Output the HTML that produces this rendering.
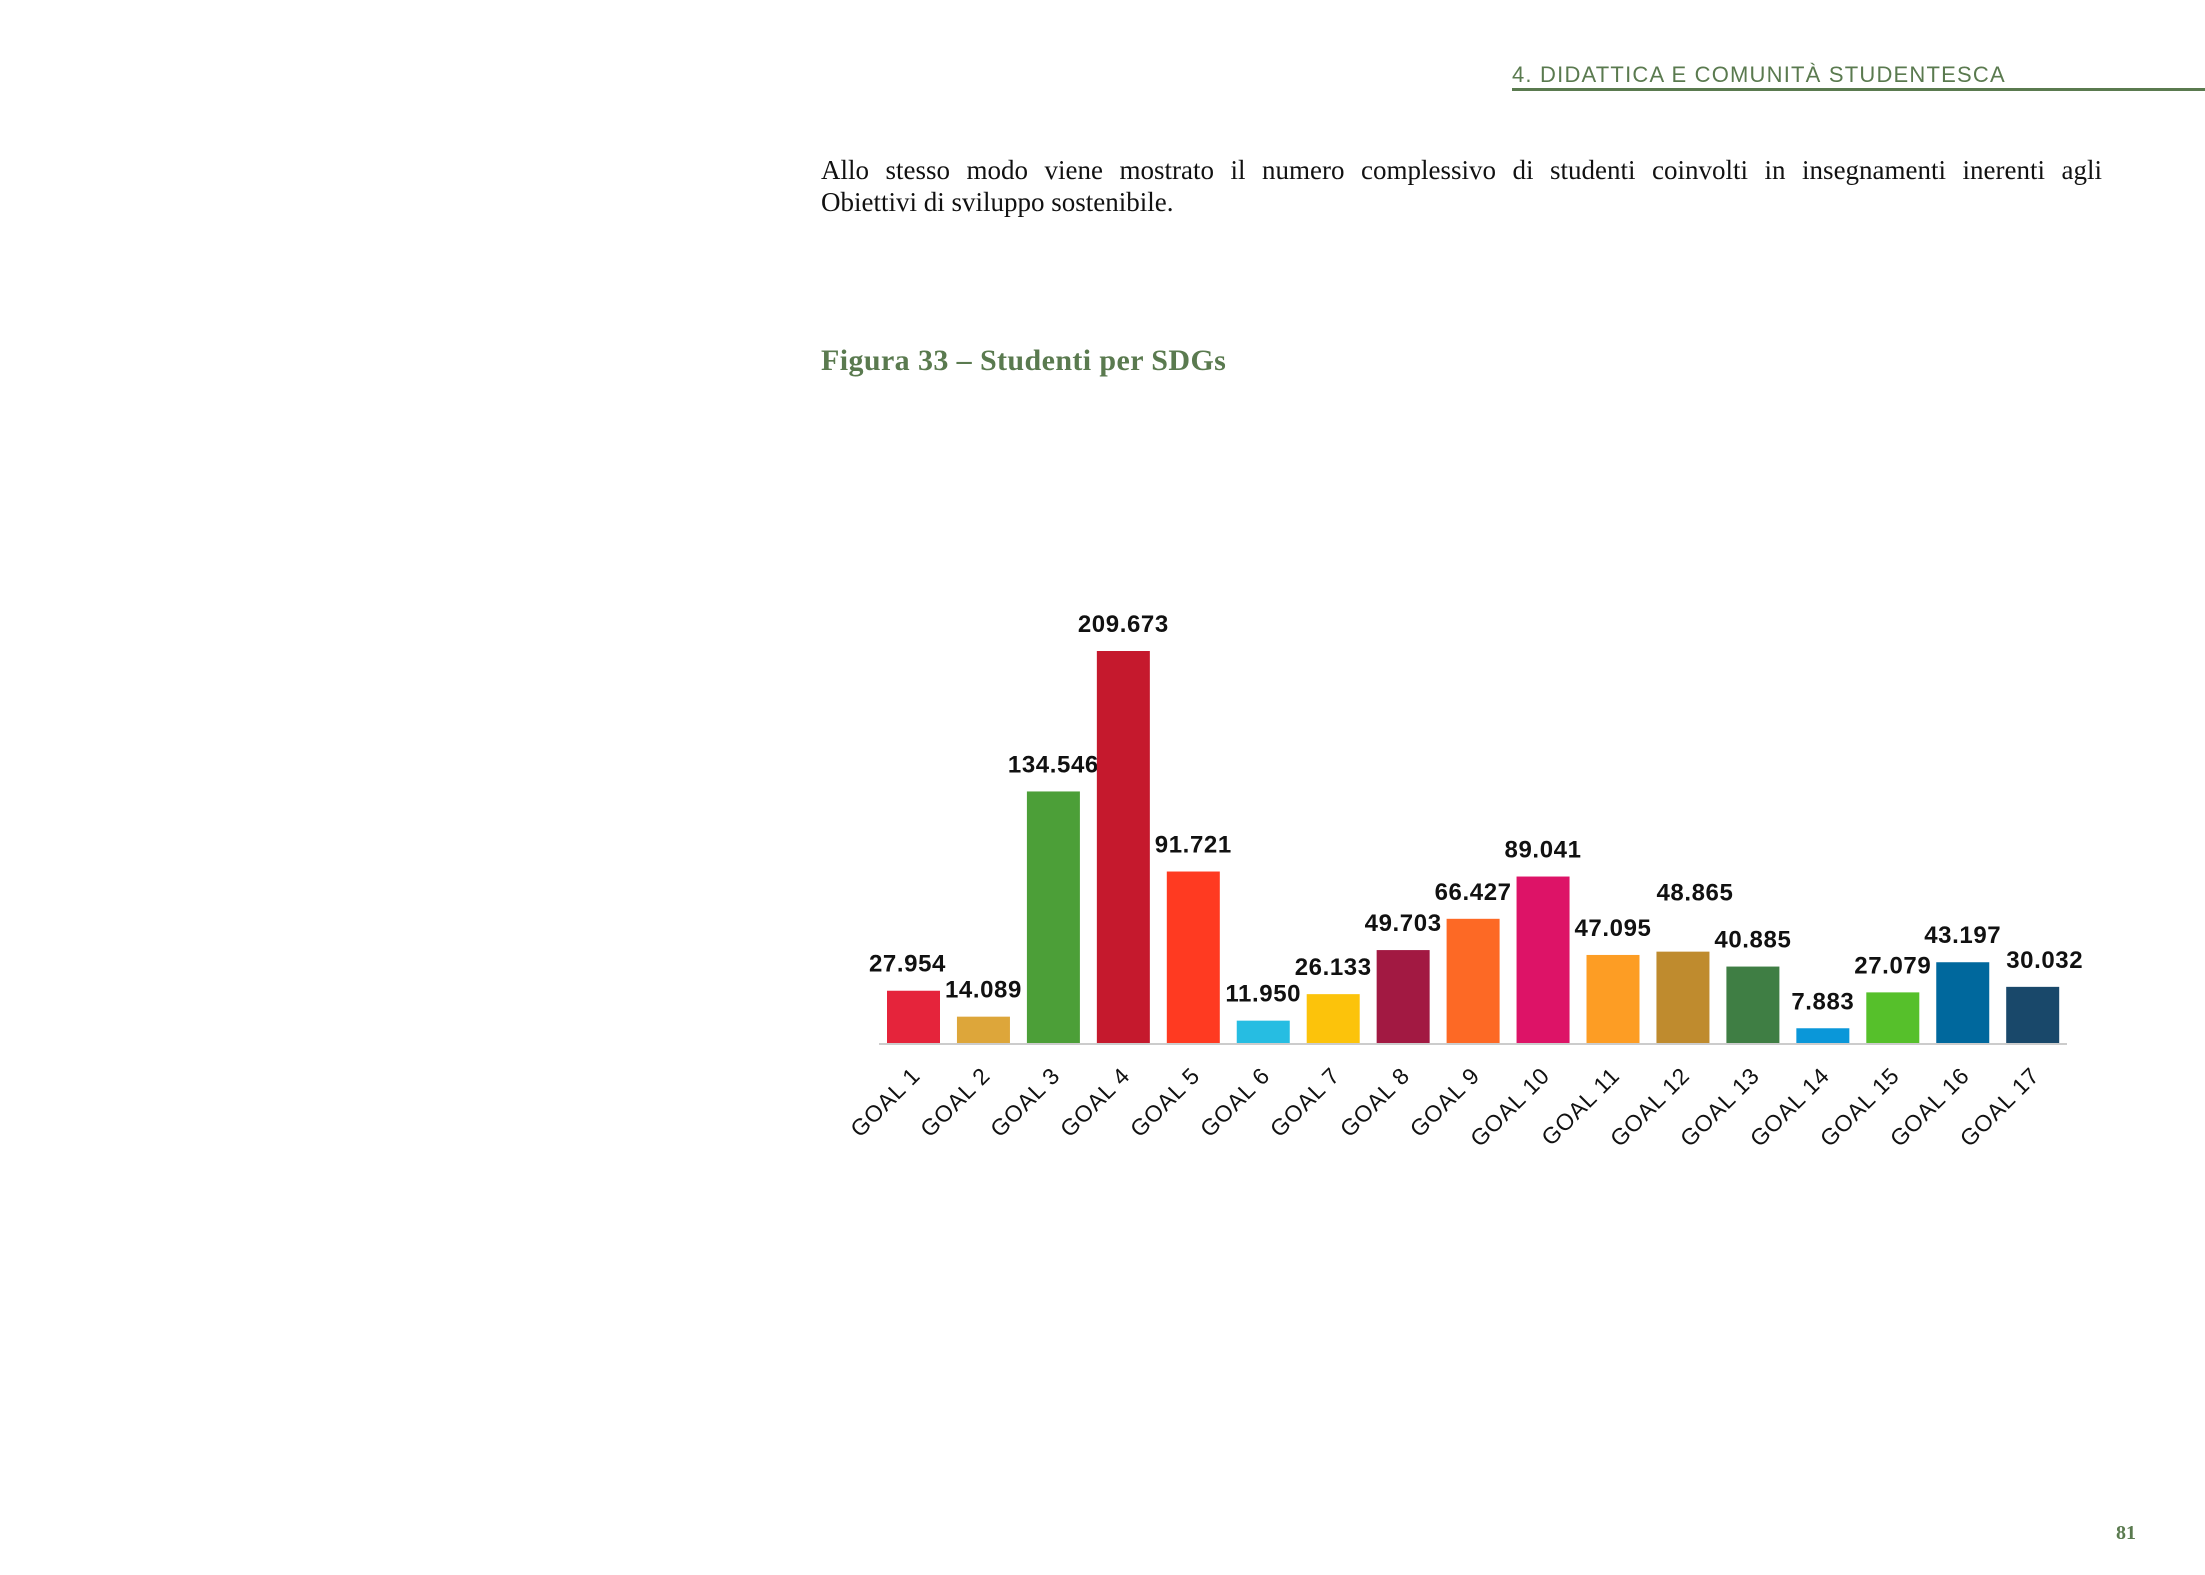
<!DOCTYPE html>
<html><head><meta charset="utf-8"><style>
body{margin:0;width:2205px;height:1575px;background:#fff;position:relative;overflow:hidden}
.hdr{position:absolute;left:1512px;top:62px;font:22px "Liberation Sans",sans-serif;color:#5a7a4f;letter-spacing:1.2px}
.hline{position:absolute;left:1512px;top:88px;width:693px;height:3px;background:#5a7a4f}
.para{position:absolute;left:821px;top:154px;width:1281px;font:27px/32px "Liberation Serif",serif;color:#111}
.l1{text-align:justify;text-align-last:justify;white-space:nowrap;overflow:visible}
.title{position:absolute;left:821px;top:344px;font:bold 30px "Liberation Serif",serif;color:#5a7a4f;letter-spacing:0.4px}
.pnum{position:absolute;left:2116px;top:1522px;font:bold 20px "Liberation Serif",serif;color:#5a7a4f}
svg{position:absolute;left:0;top:0}
</style></head><body>
<div class="hdr">4. DIDATTICA E COMUNITÀ STUDENTESCA</div>
<div class="hline"></div>
<div class="para"><div class="l1" style="white-space:normal">Allo stesso modo viene mostrato il numero complessivo di studenti coinvolti in insegnamenti inerenti agli</div><div>Obiettivi di sviluppo sostenibile.</div></div>
<div class="title">Figura 33 – Studenti per SDGs</div>
<div class="pnum">81</div>
<svg id="chart" width="2205" height="1575"></svg>
<script>
const categories=["GOAL 1","GOAL 2","GOAL 3","GOAL 4","GOAL 5","GOAL 6","GOAL 7","GOAL 8","GOAL 9","GOAL 10","GOAL 11","GOAL 12","GOAL 13","GOAL 14","GOAL 15","GOAL 16","GOAL 17"];
const values=[27954,14089,134546,209673,91721,11950,26133,49703,66427,89041,47095,48865,40885,7883,27079,43197,30032];
const valueLabels=["27.954","14.089","134.546","209.673","91.721","11.950","26.133","49.703","66.427","89.041","47.095","48.865","40.885","7.883","27.079","43.197","30.032"];
const colors=["#e5243b","#dda63a","#4c9f38","#c5192d","#ff3a21","#26bde2","#fcc30b","#a21942","#fd6925","#dd1367","#fd9d24","#bf8b2e","#3f7e44","#0a97d9","#56c02b","#00689d","#19486a"];
const labelNudgeY=[0,0,0,0,0,0,0,0,0,0,0,-32,0,0,0,0,0];
const labelNudgeX=[-6,0,0,0,0,0,0,0,0,0,0,12,0,0,0,0,12];
const NS="http://www.w3.org/2000/svg";
const svg=document.getElementById('chart');
const x0=887,pitch=69.95,bw=53,base=1043,maxV=209673,maxH=392;
const xPos=i=>x0+i*pitch;
const yPos=v=>base-v/maxV*maxH;
const axis=document.createElementNS(NS,'line');
axis.setAttribute('x1',879);axis.setAttribute('x2',2067);axis.setAttribute('y1',base+1);axis.setAttribute('y2',base+1);
axis.setAttribute('stroke','#ccc');axis.setAttribute('stroke-width',2);


svg.appendChild(axis);
values.forEach((v,i)=>{
  const r=document.createElementNS(NS,'rect');
  r.setAttribute('x',xPos(i));r.setAttribute('y',yPos(v));r.setAttribute('width',bw);r.setAttribute('height',base-yPos(v));r.setAttribute('fill',colors[i]);
  
  
  svg.appendChild(r);
  const t=document.createElementNS(NS,'text');
  t.setAttribute('x',xPos(i)+bw/2+labelNudgeX[i]);t.setAttribute('y',yPos(v)-19+labelNudgeY[i]);
  t.setAttribute('text-anchor','middle');t.setAttribute('font-family','Liberation Sans, sans-serif');t.setAttribute('font-weight','bold');t.setAttribute('font-size','24');t.setAttribute('letter-spacing','0.6');t.setAttribute('fill','#111');
  t.textContent=valueLabels[i];
  
  
  svg.appendChild(t);
  const c=document.createElementNS(NS,'text');
  const cx=xPos(i)+bw/2+8,cy=base+34;
  c.setAttribute('x',cx);c.setAttribute('y',cy);c.setAttribute('text-anchor','end');
  c.setAttribute('transform','rotate(-45 '+cx+' '+cy+')');
  c.setAttribute('font-family','Liberation Sans, sans-serif');c.setAttribute('font-size','23');c.setAttribute('letter-spacing','0.8');c.setAttribute('fill','#111');
  c.textContent=categories[i];
  
  
  svg.appendChild(c);
});
</script>
</body></html>
